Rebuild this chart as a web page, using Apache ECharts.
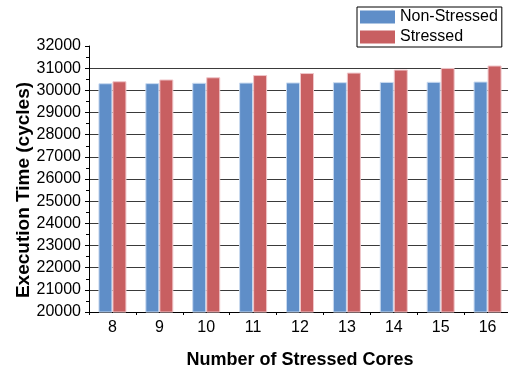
<!DOCTYPE html>
<html><head><meta charset="utf-8">
<script src="https://cdn.jsdelivr.net/npm/echarts@6/dist/echarts.min.js"></script>
<style>html,body{margin:0;padding:0;background:#fff}#c{width:508px;height:368px}</style>
</head><body><div id="c"></div>
<script>
const categories = ['8','9','10','11','12','13','14','15','16'];
const nonStressed = [30320, 30325, 30340, 30350, 30355, 30368, 30380, 30385, 30397];
const stressed = [30410, 30490, 30590, 30690, 30780, 30800, 30935, 31010, 31120];
const yTicks = {min: 20000, max: 32000, interval: 1000};

const font = 'Liberation Sans, Arial, Helvetica, sans-serif';
const chart = echarts.init(document.getElementById('c'), null, {renderer: 'canvas'});
chart.setOption({
  animation: false,
  textStyle: {fontFamily: font},
  grid: {left: 89, right: -3, top: 46, bottom: 56, containLabel: false, outerBoundsMode: 'none'},
  legend: {
    orient: 'vertical', left: 357, top: 7,
    padding: [2, 4, 2, 3], itemGap: 4, itemWidth: 35, itemHeight: 13,
    borderColor: '#000', borderWidth: 1, backgroundColor: '#fff',
    icon: 'rect',
    textStyle: {fontFamily: font, fontSize: 16, color: '#000', lineHeight: 16, padding: [0,0,0,0]},
    itemStyle: {borderWidth: 0},
    data: ['Non-Stressed', 'Stressed']
  },
  xAxis: [{
    type: 'category', data: categories,
    name: 'Number of Stressed Cores', nameLocation: 'middle', nameGap: 39, nameMoveOverlap: false,
    nameTextStyle: {fontFamily: font, fontSize: 18, fontWeight: 'bold', color: '#000'},
    axisLine: {lineStyle: {color: '#000', width: 1}},
    axisTick: {alignWithLabel: true, length: 4, lineStyle: {color: '#000'}},
    axisLabel: {fontFamily: font, fontSize: 16, color: '#000', margin: 8},
    splitLine: {show: false}
  }, {
    type: 'category', data: categories, position: 'bottom',
    axisLine: {show: false},
    axisTick: {show: true, length: 3, lineStyle: {color: '#000'}},
    axisLabel: {show: false},
    splitLine: {show: false}
  }],
  yAxis: {
    type: 'value', min: yTicks.min, max: yTicks.max, interval: yTicks.interval,
    name: 'Execution Time (cycles)', nameLocation: 'middle', nameGap: 56, nameMoveOverlap: false,
    nameTextStyle: {fontFamily: font, fontSize: 19, fontWeight: 'bold', color: '#000', padding: [0, 22, 0, 0]},
    axisLine: {show: true, lineStyle: {color: '#000', width: 1}},
    axisTick: {show: true, length: 4, lineStyle: {color: '#000'}},
    minorTick: {show: true, splitNumber: 2, length: 3, lineStyle: {color: '#000'}},
    axisLabel: {fontFamily: font, fontSize: 16, color: '#000', margin: 8, formatter: v => String(v)},
    splitLine: {show: true, showMinLine: false, showMaxLine: false, lineStyle: {color: '#3a3a3a', width: 1}}
  },
  series: [{
    name: 'Non-Stressed', type: 'bar', data: nonStressed, barWidth: 14, barGap: '0%',
    itemStyle: {color: '#5F8EC8', borderColor: '#C9DAF0', borderWidth: 1}
  }, {
    name: 'Stressed', type: 'bar', data: stressed, barWidth: 14, barGap: '0%',
    itemStyle: {color: '#C85F61', borderColor: '#F0C6CA', borderWidth: 1}
  }]
});
</script></body></html>
